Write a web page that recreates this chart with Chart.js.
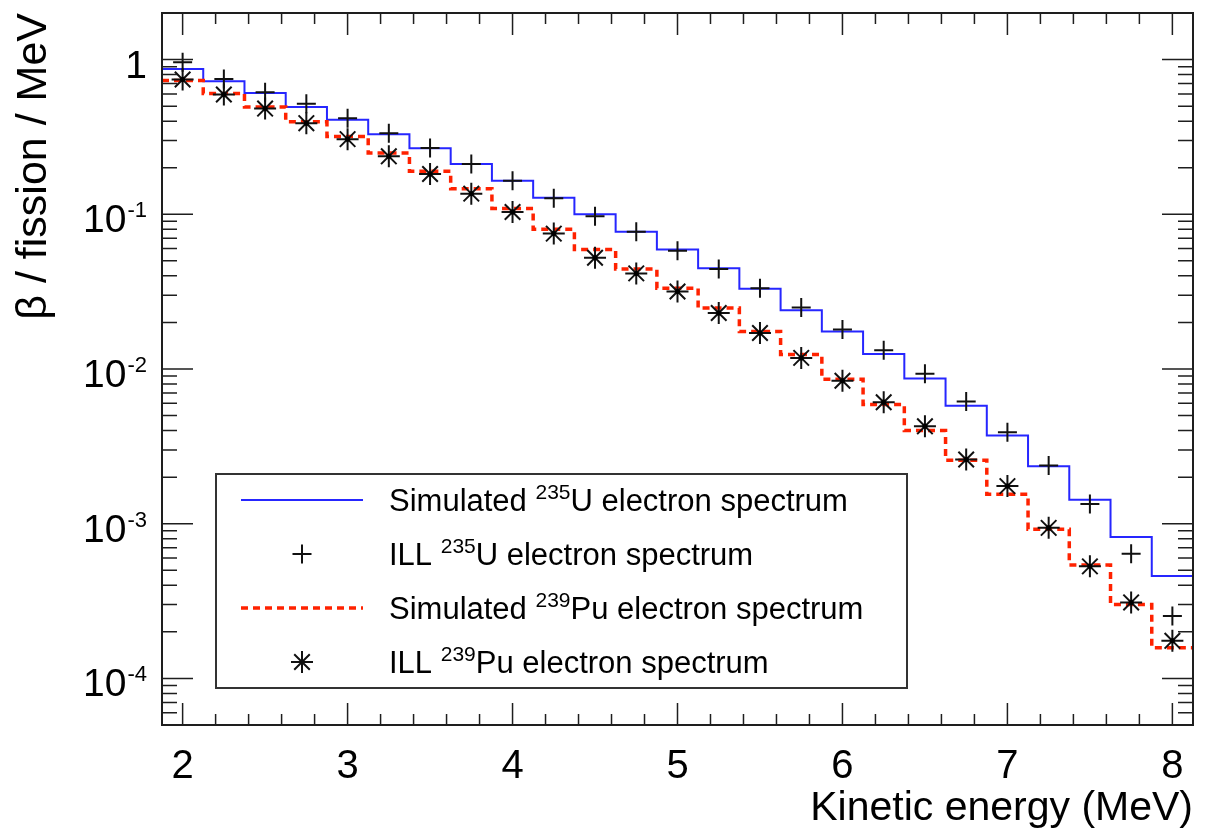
<!DOCTYPE html>
<html>
<head>
<meta charset="utf-8">
<title>Electron spectra</title>
<script src="https://cdn.jsdelivr.net/npm/chart.js@4.4.1/dist/chart.umd.min.js"></script>
<style>
  html, body { margin: 0; padding: 0; background: #fff; }
</style>
</head>
<body>
<canvas id="spectrum-chart" width="1206" height="829"></canvas>
<script>
/* Beta spectra per fission - simulated vs ILL (Chart.js) */

// bin centres (MeV), bins are 0.25 MeV wide
const energy = [2.0, 2.25, 2.5, 2.75, 3.0, 3.25, 3.5, 3.75, 4.0, 4.25, 4.5, 4.75, 5.0,
  5.25, 5.5, 5.75, 6.0, 6.25, 6.5, 6.75, 7.0, 7.25, 7.5, 7.75, 8.0];

const simU235 = [0.870, 0.725, 0.607, 0.494, 0.409, 0.329, 0.267, 0.211, 0.165, 0.128, 0.100, 0.0770, 0.0593,
  0.0448, 0.0330, 0.0240, 0.0175, 0.0125, 0.00867, 0.00578, 0.00371, 0.00235, 0.00143, 0.00082, 0.00046];
const illU235 = [0.960, 0.750, 0.616, 0.519, 0.417, 0.334, 0.268, 0.211, 0.165, 0.127, 0.097, 0.0770, 0.0581,
  0.0443, 0.0333, 0.0250, 0.0180, 0.0132, 0.00933, 0.00617, 0.00390, 0.00238, 0.00134, 0.00064, 0.000253];
const simPu239 = [0.732, 0.604, 0.494, 0.397, 0.318, 0.249, 0.190, 0.146, 0.109, 0.0800, 0.0593, 0.0443, 0.0333,
  0.0248, 0.0175, 0.0124, 0.0086, 0.0059, 0.0040, 0.00257, 0.00155, 0.00092, 0.00054, 0.00030, 0.000158];
const illPu239 = [0.743, 0.595, 0.482, 0.388, 0.306, 0.237, 0.182, 0.136, 0.1035, 0.0750, 0.0524, 0.0415, 0.0317,
  0.0230, 0.0171, 0.0118, 0.0084, 0.0061, 0.00426, 0.0026, 0.00175, 0.00094, 0.00053, 0.00031, 0.000175];

// axes
const xMin = 1.875, xMax = 8.125;
const yMin = 5e-5, yMax = 2;
const xTickLabels = [2, 3, 4, 5, 6, 7, 8];
const yTickValues = [1, 0.1, 0.01, 0.001, 0.0001];
const yTickBases = ['1', '10', '10', '10', '10'];
const yTickExps = ['', '-1', '-2', '-3', '-4'];

// legend text pieces
const legendPrefix = ['Simulated', 'ILL', 'Simulated', 'ILL'];
const legendMass = ['235', '235', '239', '239'];
const legendElement = ['U', 'U', 'Pu', 'Pu'];
const legendSuffix = ' electron spectrum';

const FONT = "'Liberation Sans', Arial, Helvetica, sans-serif";
const BLUE = '#2626ff';
const RED = '#ff2200';

function points(values) {
  return energy.map((e, i) => ({ x: e, y: values[i] }));
}

// histogram: stretch the first and last bin out to the axis edges
function histPoints(values) {
  const pts = points(values);
  pts.unshift({ x: xMin, y: values[0] });
  pts.push({ x: xMax, y: values[values.length - 1] });
  return pts;
}

// ROOT-like frame with inward ticks on all four sides + y labels with exponents
const frameTicks = {
  id: 'frameTicks',
  afterDatasetsDraw(chart) {
    const { ctx, chartArea: a, scales: { x, y } } = chart;
    ctx.save();
    ctx.strokeStyle = '#1e1e1e';
    ctx.lineWidth = 1.5;
    ctx.beginPath();
    for (let i = 10; i <= 40; i++) {
      const px = x.getPixelForValue(i / 5);
      const len = i % 5 === 0 ? 22 : 11;
      ctx.moveTo(px, a.bottom); ctx.lineTo(px, a.bottom - len);
      ctx.moveTo(px, a.top); ctx.lineTo(px, a.top + len);
    }
    for (let e = -5; e <= 0; e++) {
      for (let m = 1; m <= 9; m++) {
        const v = m * Math.pow(10, e);
        if (v < yMin * 0.999 || v > yMax * 1.001) continue;
        const py = y.getPixelForValue(v);
        const len = m === 1 ? 31 : 15;
        ctx.moveTo(a.left, py); ctx.lineTo(a.left + len, py);
        ctx.moveTo(a.right, py); ctx.lineTo(a.right - len, py);
      }
    }
    ctx.stroke();
    ctx.lineWidth = 2;
    ctx.strokeRect(a.left, a.top, a.right - a.left, a.bottom - a.top);

    ctx.fillStyle = '#000';
    ctx.textBaseline = 'alphabetic';
    ctx.textAlign = 'right';
    const right = a.left - 15;
    yTickValues.forEach((v, i) => {
      const py = y.getPixelForValue(v);
      let w = 0;
      if (yTickExps[i]) {
        ctx.font = `22px ${FONT}`;
        w = ctx.measureText(yTickExps[i]).width + 1;
        ctx.fillText(yTickExps[i], right, py + 3);
      }
      ctx.font = `39px ${FONT}`;
      ctx.fillText(yTickBases[i], right - w, py + 18);
    });
    ctx.restore();
  }
};

// legend box drawn inside the frame, entries reuse the dataset styles
const legendOrder = [0, 1, 2, 3];
const legendBox = {
  id: 'legendBox',
  afterDraw(chart) {
    const { ctx, chartArea: a } = chart;
    const bx = a.left + 54, by = a.top + 461, bw = 691, bh = 214;
    ctx.save();
    ctx.fillStyle = '#fff';
    ctx.fillRect(bx, by, bw, bh);
    ctx.strokeStyle = '#333';
    ctx.lineWidth = 2;
    ctx.strokeRect(bx, by, bw, bh);

    const symX = bx + 86, textX = bx + 173;
    legendOrder.forEach((dsIndex, row) => {
      const ds = chart.data.datasets[dsIndex];
      const cy = by + 26 + row * 54;
      ctx.save();
      if (ds.showLine !== false) {
        ctx.strokeStyle = ds.borderColor;
        ctx.lineWidth = ds.borderWidth;
        ctx.setLineDash(ds.borderDash || []);
        ctx.beginPath();
        ctx.moveTo(symX - 61, cy);
        ctx.lineTo(symX + 61, cy);
        ctx.stroke();
      } else {
        ctx.strokeStyle = ds.pointBorderColor;
        ctx.fillStyle = 'rgba(0,0,0,0)';
        Chart.helpers.drawPoint(ctx, {
          pointStyle: ds.pointStyle, radius: ds.pointRadius,
          borderWidth: ds.pointBorderWidth, rotation: 0
        }, symX, cy);
      }
      ctx.restore();

      const base = cy + 11;
      ctx.fillStyle = '#000';
      ctx.textAlign = 'left';
      ctx.textBaseline = 'alphabetic';
      ctx.font = `31px ${FONT}`;
      let tx = textX;
      const pre = legendPrefix[row] + ' ';
      ctx.fillText(pre, tx, base);
      tx += ctx.measureText(pre).width;
      ctx.font = `21px ${FONT}`;
      ctx.fillText(legendMass[row], tx, base - 12);
      tx += ctx.measureText(legendMass[row]).width;
      ctx.font = `31px ${FONT}`;
      ctx.fillText(legendElement[row] + legendSuffix, tx, base);
    });
    ctx.restore();
  }
};

const ctx = document.getElementById('spectrum-chart').getContext('2d');

new Chart(ctx, {
  type: 'line',
  data: {
    datasets: [
      {
        label: 'Simulated 235U electron spectrum',
        data: histPoints(simU235),
        borderColor: BLUE,
        borderWidth: 2,
        stepped: 'middle',
        pointRadius: 0,
        fill: false,
        order: 5
      },
      {
        label: 'ILL 235U electron spectrum',
        data: points(illU235),
        showLine: false,
        pointStyle: 'cross',
        pointRadius: 9.5,
        pointBorderWidth: 2,
        pointBorderColor: '#111',
        pointBackgroundColor: 'rgba(0,0,0,0)',
        order: 3
      },
      {
        label: 'Simulated 239Pu electron spectrum',
        data: histPoints(simPu239),
        borderColor: RED,
        borderWidth: 3.5,
        borderDash: [7, 5],
        stepped: 'middle',
        pointRadius: 0,
        fill: false,
        order: 4
      },
      {
        label: 'ILL 239Pu electron spectrum',
        data: points(illPu239),
        showLine: false,
        pointStyle: 'star',
        pointRadius: 11,
        pointBorderWidth: 2,
        pointBorderColor: '#111',
        pointBackgroundColor: 'rgba(0,0,0,0)',
        order: 2
      },
      {
        // small centre dot drawn on each ILL Pu marker
        label: 'ILL 239Pu centre',
        data: points(illPu239),
        showLine: false,
        pointStyle: 'circle',
        pointRadius: 2.5,
        pointBorderWidth: 0,
        pointBackgroundColor: '#000',
        order: 1
      }
    ]
  },
  options: {
    responsive: false,
    animation: false,
    events: [],
    layout: { padding: { top: 10, right: 2, left: 0, bottom: 0 } },
    plugins: {
      legend: { display: false },
      tooltip: { enabled: false }
    },
    scales: {
      x: {
        type: 'linear',
        min: xMin,
        max: xMax,
        grid: { display: false, drawTicks: false },
        border: { display: false },
        afterBuildTicks: (scale) => {
          scale.ticks = xTickLabels.map(v => ({ value: v }));
        },
        afterFit: (scale) => { scale.height = 104; },
        ticks: {
          autoSkip: false,
          maxRotation: 0,
          padding: 22,
          color: '#000',
          font: { family: FONT, size: 40, lineHeight: 1 },
          callback: (val) => String(val)
        },
        title: {
          display: true,
          text: 'Kinetic energy (MeV)',
          align: 'end',
          color: '#000',
          padding: { top: 0, bottom: 0 },
          font: { family: FONT, size: 41, lineHeight: 1 }
        }
      },
      y: {
        type: 'logarithmic',
        min: yMin,
        max: yMax,
        grid: { display: false, drawTicks: false },
        border: { display: false },
        afterFit: (scale) => { scale.width = 162; },
        ticks: { display: false },
        title: {
          display: true,
          text: 'β / fission / MeV',
          align: 'end',
          color: '#000',
          padding: { top: 13, bottom: 0 },
          font: { family: FONT, size: 43, lineHeight: 1 }
        }
      }
    }
  },
  plugins: [frameTicks, legendBox]
});
</script>
</body>
</html>
